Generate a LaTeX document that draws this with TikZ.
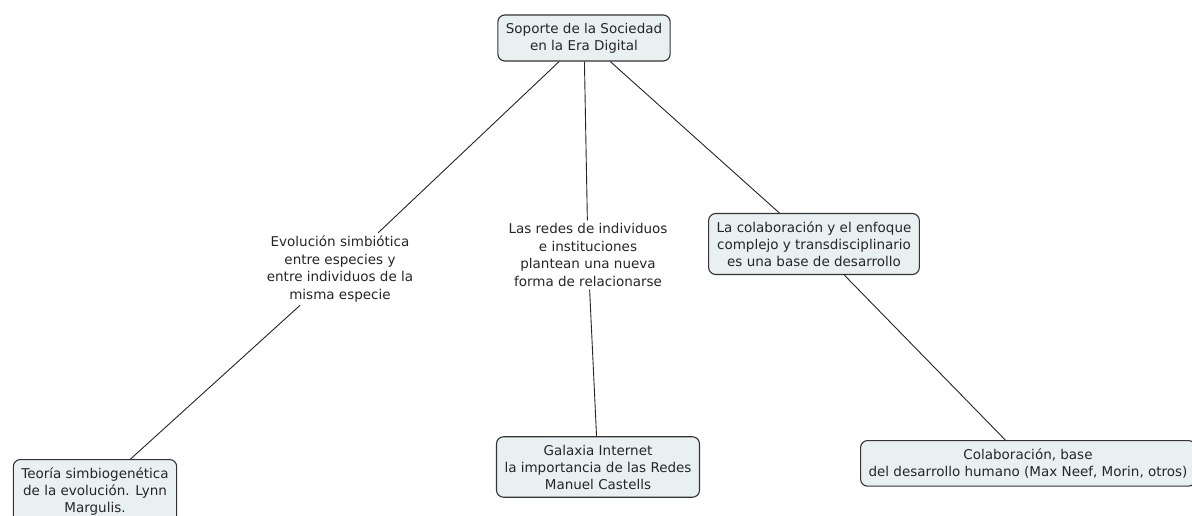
\documentclass[tikz,border=0pt]{standalone}
\usepackage{fontspec}
\setmainfont{DejaVu Sans}
\definecolor{cajafondo}{HTML}{E8F0F2}
\begin{document}
\begin{tikzpicture}[x=1pt, y=-1pt,
    caja/.style={draw=black!80, line width=1.1pt, fill=cajafondo, rounded corners=7pt, align=center,
        inner xsep=8pt, inner ysep=8pt, text=black!85, font=\fontsize{13.5}{17}\selectfont},
    enlace/.style={align=center, inner sep=3pt, text=black!85, font=\fontsize{13.5}{17.5}\selectfont},
    linea/.style={draw=black!85, line width=0.9pt}]
\useasboundingbox (0,0) rectangle (1192,516);
\fill[white] (0,0) rectangle (1192,516);

\node[caja] (soporte) at (584,38) {Soporte de la Sociedad\\en la Era Digital};

\node[enlace] (evolucion) at (340,269) {Evolución simbiótica\\entre especies y\\entre individuos de la\\misma especie};
\node[enlace] (redes) at (588,255) {Las redes de individuos\\e instituciones\\plantean una nueva\\forma de relacionarse};
\node[caja] (colaboracion) at (814,244) {La colaboración y el enfoque\\complejo y transdisciplinario\\es una base de desarrollo};

\node[caja, anchor=north] (teoria) at (95,459) {Teoría simbiogenética\\de la evolución. Lynn\\Margulis.};
\node[caja] (galaxia) at (598,467) {Galaxia Internet\\la importancia de las Redes\\Manuel Castells};
\node[caja, anchor=north] (desarrollo) at (1028,440) {Colaboración, base\\del desarrollo humano (Max Neef, Morin, otros)};

\draw[linea] (soporte)--(evolucion);
\draw[linea] (evolucion)--(teoria);
\draw[linea] (soporte)--(redes);
\draw[linea] (redes)--(galaxia);
\draw[linea] (soporte)--(colaboracion);
\draw[linea] (colaboracion)--(desarrollo);

\end{tikzpicture}
\end{document}
